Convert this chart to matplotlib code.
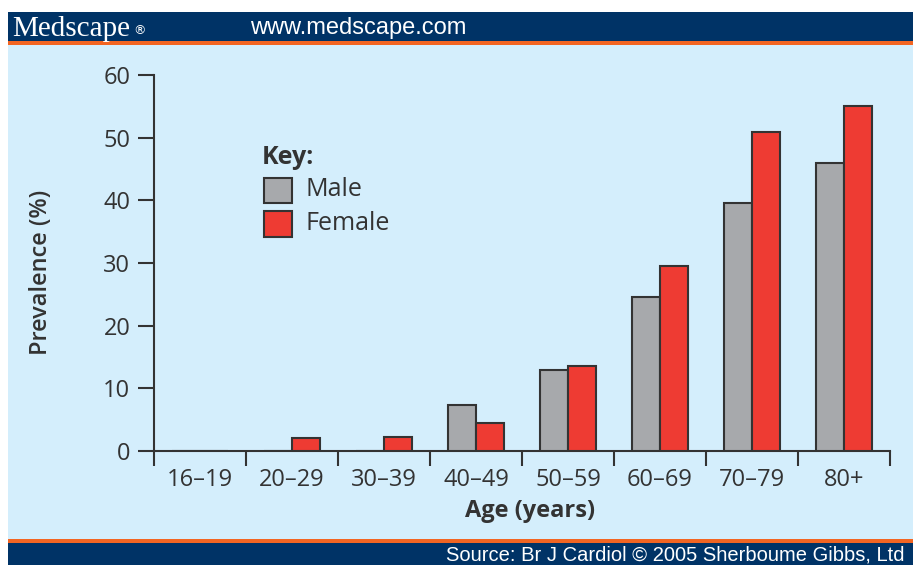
import matplotlib
matplotlib.use("Agg")
import matplotlib.pyplot as plt
from matplotlib.patches import Rectangle
import numpy as np

# data
age_groups = ['16–19', '20–29', '30–39', '40–49', '50–59', '60–69', '70–79', '80+']
male = [0, 0, 0, 7.3, 12.9, 24.6, 39.6, 45.9]
female = [0, 2.0, 2.3, 4.4, 13.5, 29.5, 50.9, 55.0]
y_ticks = [0, 10, 20, 30, 40, 50, 60]

navy = '#003366'
orange = '#F26522'
panel = '#D4EEFC'
grey = '#A7A9AC'
red = '#EE3B33'
ink = '#333333'

W, H = 913, 565
fig = plt.figure(figsize=(W / 100, H / 100), dpi=100)
fig.patch.set_facecolor('white')

# background frame in pixel coordinates
bg = fig.add_axes([0, 0, 1, 1])
bg.set_xlim(0, W)
bg.set_ylim(H, 0)
bg.axis('off')
bg.add_patch(Rectangle((8, 12), W - 8, 29, color=navy, lw=0))
bg.add_patch(Rectangle((8, 41), W - 8, 4, color=orange, lw=0))
bg.add_patch(Rectangle((8, 45), W - 8, 494, color=panel, lw=0))
bg.add_patch(Rectangle((8, 539), W - 8, 4, color=orange, lw=0))
bg.add_patch(Rectangle((8, 543), W - 8, 22, color=navy, lw=0))
bg.text(12, 29, 'Medscape', family='Liberation Serif', fontsize=21, color='white',
        va='center', ha='left')
bg.text(133, 31, '®', family='DejaVu Sans', fontsize=9, color='white', va='center')
bg.text(250, 28, 'www.medscape.com', family='Liberation Sans', fontsize=17,
        color='white', va='center', ha='left')
bg.text(905, 555, 'Source: Br J Cardiol © 2005 Sherboume Gibbs, Ltd',
        family='Liberation Sans', fontsize=14.5, color='white', va='center', ha='right')

# legend drawn by hand
fs_leg = 18
bg.text(262, 157, 'Key:', family='Open Sans', fontsize=fs_leg, fontweight='bold',
        color=ink, va='center', ha='left')
bg.add_patch(Rectangle((264, 178), 28, 25, facecolor=grey, edgecolor=ink, lw=1.5))
bg.add_patch(Rectangle((264, 211), 28, 26, facecolor=red, edgecolor=ink, lw=1.5))
bg.text(306, 189, 'Male', family='Open Sans', fontsize=fs_leg, color=ink, va='center')
bg.text(306, 224, 'Female', family='Open Sans', fontsize=fs_leg, color=ink, va='center')

# chart axes
ax = fig.add_axes([154 / W, (H - 451) / H, 736 / W, 376 / H])
ax.patch.set_alpha(0)
x = np.arange(len(age_groups))
bw = 0.3
ax.bar(x - bw / 2, male, bw, color=grey, edgecolor=ink, linewidth=1.5)
ax.bar(x + bw / 2, female, bw, color=red, edgecolor=ink, linewidth=1.5)

ax.set_xlim(-0.5, len(age_groups) - 0.5)
ax.set_ylim(0, 60)
for s in ['top', 'right']:
    ax.spines[s].set_visible(False)
for s in ['left', 'bottom']:
    ax.spines[s].set_color(ink)
    ax.spines[s].set_linewidth(1.5)
ax.spines['bottom'].set_zorder(0)

fs_tick = 17
ax.set_yticks(y_ticks)
ax.set_yticklabels([str(v) for v in y_ticks], family='Open Sans', fontsize=fs_tick, color=ink)
ax.tick_params(axis='y', direction='out', length=11.5, width=1.5, color=ink, pad=5.5)

ax.set_xticks(np.arange(-0.5, len(age_groups)))
ax.set_xticklabels([])
ax.set_xticks(x, minor=True)
ax.set_xticklabels(age_groups, minor=True, family='Open Sans', fontsize=fs_tick, color=ink)
ax.tick_params(axis='x', which='major', direction='out', length=11, width=1.5, color=ink)
ax.tick_params(axis='x', which='minor', length=0, pad=12)

ax.set_ylabel('Prevalence (%)', family='Open Sans', fontsize=17, fontweight='semibold',
              color=ink)
ax.yaxis.set_label_coords((53 - 154) / 736, (451 - 272) / 376)
ax.set_xlabel('Age (years)', family='Open Sans', fontsize=17, fontweight='bold',
              color=ink)
ax.xaxis.set_label_coords((530 - 154) / 736, (451 - 499) / 376)

fig.savefig('out.png', dpi=100)
